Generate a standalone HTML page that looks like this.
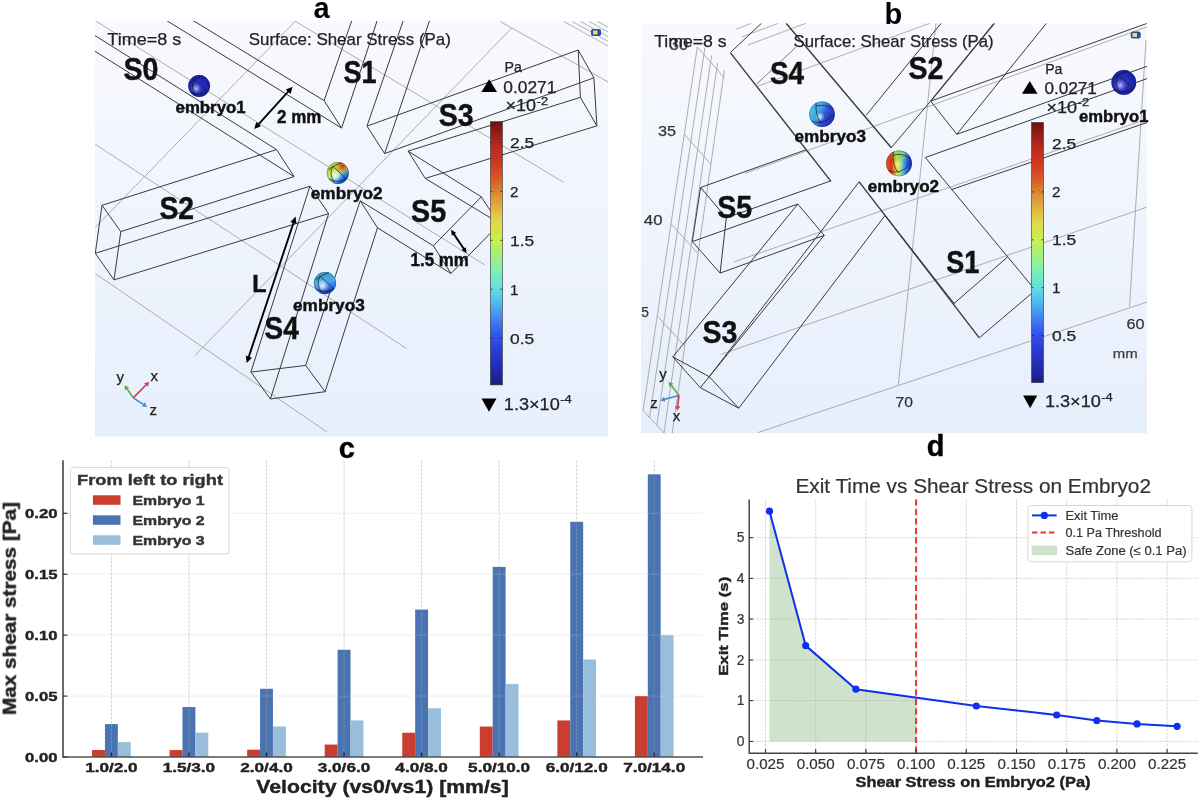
<!DOCTYPE html>
<html><head><meta charset="utf-8"><style>
html,body{margin:0;padding:0;background:#fff;width:1200px;height:799px;overflow:hidden}
body>svg{position:absolute;left:0;top:0;font-family:"Liberation Sans", sans-serif;will-change:transform}
</style></head><body>
<svg width="1200" height="799" viewBox="0 0 1200 799">
<defs>
<linearGradient id="bgA" x1="0" y1="0" x2="0" y2="1"><stop offset="0" stop-color="#f8f9fe"/><stop offset="1" stop-color="#e6effc"/></linearGradient>
<linearGradient id="cbar" x1="0" y1="1" x2="0" y2="0"><stop offset="0" stop-color="#1c1c80"/><stop offset="0.051" stop-color="#2028a8"/><stop offset="0.117" stop-color="#2838d0"/><stop offset="0.182" stop-color="#3050e8"/><stop offset="0.245" stop-color="#4080f0"/><stop offset="0.31" stop-color="#50b8f0"/><stop offset="0.365" stop-color="#60e0e0"/><stop offset="0.438" stop-color="#80f0b0"/><stop offset="0.511" stop-color="#b0f068"/><stop offset="0.547" stop-color="#c8f050"/><stop offset="0.62" stop-color="#e0d848"/><stop offset="0.675" stop-color="#e0b040"/><stop offset="0.73" stop-color="#d88830"/><stop offset="0.785" stop-color="#d85828"/><stop offset="0.84" stop-color="#d03820"/><stop offset="0.912" stop-color="#b82820"/><stop offset="1.0" stop-color="#701010"/></linearGradient>
</defs>
<rect x="95" y="21" width="513" height="415.5" fill="url(#bgA)"/><svg x="95" y="21" width="513" height="415.5" viewBox="95 21 513 415.5" overflow="hidden"><path d="M95.0,20.5 L485.1,265.1" fill="none" stroke="#a4a4a4" stroke-width="0.9" /><path d="M295.3,21.3 L95.0,227.6" fill="none" stroke="#a4a4a4" stroke-width="0.9" /><path d="M95.3,144.3 L406.3,348.4" fill="none" stroke="#a4a4a4" stroke-width="0.9" /><path d="M95.3,273.6 L327.0,432.0" fill="none" stroke="#a4a4a4" stroke-width="0.9" /><path d="M511.4,28.3 L195.2,355.3" fill="none" stroke="#a4a4a4" stroke-width="0.9" /><path d="M295.3,21.3 L563.6,182.3" fill="none" stroke="#a4a4a4" stroke-width="0.9" /><path d="M500.2,21.5 L608.0,81.9" fill="none" stroke="#a4a4a4" stroke-width="0.9" /><path d="M563.9,21.5 L608.9,46.5" fill="none" stroke="#aaaaaa" stroke-width="0.9" /><path d="M572.3,21.5 L617.3,46.5" fill="none" stroke="#aaaaaa" stroke-width="0.9" /><path d="M580.7,21.5 L625.7,46.5" fill="none" stroke="#aaaaaa" stroke-width="0.9" /><path d="M589.1,21.5 L634.1,46.5" fill="none" stroke="#aaaaaa" stroke-width="0.9" /><path d="M597.5,21.5 L642.5,46.5" fill="none" stroke="#aaaaaa" stroke-width="0.9" /><path d="M95.0,35.6 L276.6,149.6" fill="none" stroke="#3a3a3a" stroke-width="1.0" /><path d="M95.0,51.3 L294.1,176.6" fill="none" stroke="#3a3a3a" stroke-width="1.0" /><path d="M276.6,149.6 L294.1,176.6" fill="none" stroke="#3a3a3a" stroke-width="1.0" /><path d="M166.5,20.5 L341.6,128.1" fill="none" stroke="#3a3a3a" stroke-width="1.0" /><path d="M193.1,20.5 L324.1,100.6" fill="none" stroke="#3a3a3a" stroke-width="1.0" /><path d="M324.1,100.6 L341.6,128.1" fill="none" stroke="#3a3a3a" stroke-width="1.0" /><path d="M324.1,100.6 L351.8,20.5" fill="none" stroke="#3a3a3a" stroke-width="1.0" /><path d="M341.6,128.1 L377.2,20.5" fill="none" stroke="#3a3a3a" stroke-width="1.0" /><path d="M367.0,126.1 L403.3,20.5" fill="none" stroke="#3a3a3a" stroke-width="1.0" /><path d="M384.6,153.6 L429.6,20.5" fill="none" stroke="#3a3a3a" stroke-width="1.0" /><path d="M367.0,126.1 L384.6,153.6" fill="none" stroke="#3a3a3a" stroke-width="1.0" /><path d="M367.0,126.1 L578.2,50.0" fill="none" stroke="#3a3a3a" stroke-width="1.0" /><path d="M384.6,153.6 L593.9,77.8" fill="none" stroke="#3a3a3a" stroke-width="1.0" /><path d="M578.2,50.0 L593.9,77.8 L596.9,125.9 L580.4,97.4 L578.2,50.0" fill="none" stroke="#3a3a3a" stroke-width="1.0" /><path d="M408.1,151.1 L580.4,97.4" fill="none" stroke="#3a3a3a" stroke-width="1.0" /><path d="M425.2,178.4 L596.9,125.9" fill="none" stroke="#3a3a3a" stroke-width="1.0" /><path d="M408.1,151.1 L425.2,178.4" fill="none" stroke="#3a3a3a" stroke-width="1.0" /><path d="M408.1,151.1 L481.3,196.8" fill="none" stroke="#3a3a3a" stroke-width="1.0" /><path d="M425.2,178.4 L490.4,217.8" fill="none" stroke="#3a3a3a" stroke-width="1.0" /><path d="M481.3,196.8 L490.4,210.8" fill="none" stroke="#3a3a3a" stroke-width="1.0" /><path d="M481.3,196.8 L433.4,245.8" fill="none" stroke="#3a3a3a" stroke-width="1.0" /><path d="M433.4,245.8 L451.0,273.5" fill="none" stroke="#3a3a3a" stroke-width="1.0" /><path d="M451.0,273.5 L490.4,233.2" fill="none" stroke="#3a3a3a" stroke-width="1.0" /><path d="M360.2,200.8 L433.4,245.8" fill="none" stroke="#3a3a3a" stroke-width="1.0" /><path d="M377.5,227.8 L451.0,273.5" fill="none" stroke="#3a3a3a" stroke-width="1.0" /><path d="M360.2,200.8 L377.5,227.8" fill="none" stroke="#3a3a3a" stroke-width="1.0" /><path d="M250.9,372.1 L309.9,186.2" fill="none" stroke="#3a3a3a" stroke-width="1.0" /><path d="M270.4,399.0 L328.6,213.6" fill="none" stroke="#3a3a3a" stroke-width="1.0" /><path d="M305.7,365.4 L360.2,200.8" fill="none" stroke="#3a3a3a" stroke-width="1.0" /><path d="M325.1,391.7 L377.5,227.8" fill="none" stroke="#3a3a3a" stroke-width="1.0" /><path d="M250.9,372.1 L305.7,365.4 L325.1,391.7 L270.4,399.0 L250.9,372.1" fill="none" stroke="#3a3a3a" stroke-width="1.0" /><path d="M309.9,186.2 L328.6,213.6" fill="none" stroke="#3a3a3a" stroke-width="1.0" /><path d="M102.0,205.3 L276.6,149.6" fill="none" stroke="#3a3a3a" stroke-width="1.0" /><path d="M120.8,231.6 L294.1,176.6" fill="none" stroke="#3a3a3a" stroke-width="1.0" /><path d="M95.3,253.3 L309.9,186.2" fill="none" stroke="#3a3a3a" stroke-width="1.0" /><path d="M114.0,279.9 L328.6,213.6" fill="none" stroke="#3a3a3a" stroke-width="1.0" /><path d="M102.0,205.3 L120.8,231.6 L114.0,279.9 L95.3,253.3 L102.0,205.3" fill="none" stroke="#3a3a3a" stroke-width="1.0" /></svg><rect x="591" y="29" width="10" height="7" rx="2" fill="#2a4ab0"/><rect x="593" y="30.5" width="4.5" height="4" fill="#e8e050"/><text x="107.3" y="44.9" font-size="17" stroke="#222" stroke-width="0.25" fill="#222" text-anchor="start" textLength="74" lengthAdjust="spacingAndGlyphs" >Time=8 s</text><text x="248.7" y="44.7" font-size="17" stroke="#222" stroke-width="0.25" fill="#222" text-anchor="start" textLength="202.2" lengthAdjust="spacingAndGlyphs" >Surface: Shear Stress (Pa)</text><text x="123.5" y="80.0" font-size="31.2" font-weight="bold" stroke="#111" stroke-width="0.45" fill="#111" text-anchor="start" textLength="35.0" lengthAdjust="spacingAndGlyphs" >S0</text><text x="343.4" y="82.7" font-size="31.2" font-weight="bold" stroke="#111" stroke-width="0.45" fill="#111" text-anchor="start" textLength="33.0" lengthAdjust="spacingAndGlyphs" >S1</text><text x="159.4" y="219.1" font-size="31.2" font-weight="bold" stroke="#111" stroke-width="0.45" fill="#111" text-anchor="start" textLength="34.7" lengthAdjust="spacingAndGlyphs" >S2</text><text x="438.8" y="126.3" font-size="31.2" font-weight="bold" stroke="#111" stroke-width="0.45" fill="#111" text-anchor="start" textLength="34.9" lengthAdjust="spacingAndGlyphs" >S3</text><text x="264.6" y="339.3" font-size="31.2" font-weight="bold" stroke="#111" stroke-width="0.45" fill="#111" text-anchor="start" textLength="34.2" lengthAdjust="spacingAndGlyphs" >S4</text><text x="411.0" y="222.3" font-size="31.2" font-weight="bold" stroke="#111" stroke-width="0.45" fill="#111" text-anchor="start" textLength="35.1" lengthAdjust="spacingAndGlyphs" >S5</text><text x="252.3" y="291.9" font-size="24.8" font-weight="bold" stroke="#111" stroke-width="0.45" fill="#111" text-anchor="start" textLength="14.3" lengthAdjust="spacingAndGlyphs" >L</text><defs><radialGradient id="sph1199" cx="0.45" cy="0.5" r="0.6"><stop offset="0" stop-color="#3038c8"/><stop offset="0.75" stop-color="#1e22a8"/><stop offset="1" stop-color="#141880"/></radialGradient><radialGradient id="sph1199h" cx="0.36" cy="0.62" r="0.28"><stop offset="0" stop-color="#c8c8ff" stop-opacity="0.95"/><stop offset="1" stop-color="#6060f0" stop-opacity="0"/></radialGradient></defs><circle cx="199.1" cy="86.0" r="10.9" fill="url(#sph1199)"/><circle cx="199.1" cy="86.0" r="10.9" fill="url(#sph1199h)"/><path d="M194.2,79.5 Q200.7,84.9 206.9,91.5" fill="none" stroke="#101828" stroke-width="0.9" opacity="0.75"/><path d="M194.2,79.5 Q189.8,87.1 195.8,95.6" fill="none" stroke="#101828" stroke-width="0.9" opacity="0.75"/><path d="M189.8,82.7 Q194.2,78.9 202.9,75.6" fill="none" stroke="#101828" stroke-width="0.9" opacity="0.75"/><path d="M190.4,92.0 Q200.2,96.7 206.9,91.5" fill="none" stroke="#101828" stroke-width="0.9" opacity="0.75"/><circle cx="199.1" cy="86.0" r="10.6" fill="none" stroke="#102040" stroke-width="0.6" opacity="0.5"/><defs><linearGradient id="sph2337" x1="0.1" y1="0.1" x2="0.9" y2="0.9"><stop offset="0" stop-color="#a8d040"/><stop offset="0.35" stop-color="#c8e048"/><stop offset="0.55" stop-color="#80e0b0"/><stop offset="0.72" stop-color="#3090e8"/><stop offset="1" stop-color="#1020a0"/></linearGradient><radialGradient id="sph2337r" cx="0.72" cy="0.18" r="0.42"><stop offset="0" stop-color="#c83010" stop-opacity="1"/><stop offset="0.6" stop-color="#e09020" stop-opacity="0.6"/><stop offset="1" stop-color="#e0c030" stop-opacity="0"/></radialGradient><radialGradient id="sph2337h" cx="0.38" cy="0.62" r="0.3"><stop offset="0" stop-color="#ffffff" stop-opacity="0.9"/><stop offset="1" stop-color="#ffffff" stop-opacity="0"/></radialGradient></defs><circle cx="337.8" cy="173.0" r="11.0" fill="url(#sph2337)"/><circle cx="337.8" cy="173.0" r="11.0" fill="url(#sph2337r)"/><circle cx="337.8" cy="173.0" r="11.0" fill="url(#sph2337h)"/><path d="M332.9,166.4 Q339.4,171.9 345.7,178.5" fill="none" stroke="#101828" stroke-width="0.9" opacity="0.75"/><path d="M332.9,166.4 Q328.4,174.1 334.5,182.7" fill="none" stroke="#101828" stroke-width="0.9" opacity="0.75"/><path d="M328.4,169.7 Q332.9,165.8 341.7,162.6" fill="none" stroke="#101828" stroke-width="0.9" opacity="0.75"/><path d="M329.0,179.1 Q338.9,183.8 345.7,178.5" fill="none" stroke="#101828" stroke-width="0.9" opacity="0.75"/><circle cx="337.8" cy="173.0" r="10.7" fill="none" stroke="#102040" stroke-width="0.6" opacity="0.5"/><defs><linearGradient id="sph3325" x1="0.3" y1="0" x2="0.5" y2="1"><stop offset="0" stop-color="#3aa0b8"/><stop offset="0.45" stop-color="#4aa8ee"/><stop offset="0.75" stop-color="#3070e0"/><stop offset="1" stop-color="#1828b0"/></linearGradient><radialGradient id="sph3325h" cx="0.38" cy="0.62" r="0.3"><stop offset="0" stop-color="#ffffff" stop-opacity="0.9"/><stop offset="1" stop-color="#ffffff" stop-opacity="0"/></radialGradient></defs><circle cx="325.0" cy="283.0" r="11.1" fill="url(#sph3325)"/><circle cx="325.0" cy="283.0" r="11.1" fill="url(#sph3325h)"/><path d="M320.0,276.3 Q326.7,281.9 333.0,288.6" fill="none" stroke="#101828" stroke-width="0.9" opacity="0.75"/><path d="M320.0,276.3 Q315.6,284.1 321.7,292.8" fill="none" stroke="#101828" stroke-width="0.9" opacity="0.75"/><path d="M315.6,279.7 Q320.0,275.8 328.9,272.5" fill="none" stroke="#101828" stroke-width="0.9" opacity="0.75"/><path d="M316.1,289.1 Q326.1,293.9 333.0,288.6" fill="none" stroke="#101828" stroke-width="0.9" opacity="0.75"/><circle cx="325.0" cy="283.0" r="10.8" fill="none" stroke="#102040" stroke-width="0.6" opacity="0.5"/><text x="175.6" y="112.7" font-size="17.3" font-weight="bold" stroke="#111" stroke-width="0.45" fill="#111" text-anchor="start" textLength="70.0" lengthAdjust="spacingAndGlyphs" >embryo1</text><text x="310.8" y="199.3" font-size="17.3" font-weight="bold" stroke="#111" stroke-width="0.45" fill="#111" text-anchor="start" textLength="71.8" lengthAdjust="spacingAndGlyphs" >embryo2</text><text x="293.0" y="310.7" font-size="17.3" font-weight="bold" stroke="#111" stroke-width="0.45" fill="#111" text-anchor="start" textLength="71.8" lengthAdjust="spacingAndGlyphs" >embryo3</text><line x1="257.8" y1="125.1" x2="289.0" y2="90.7" stroke="#000" stroke-width="1.9"/><polygon points="254.1,129.1 261.0,126.2 256.3,121.9" fill="#000"/><polygon points="292.7,86.7 290.5,93.9 285.8,89.6" fill="#000"/><line x1="248.4" y1="357.9" x2="293.9" y2="221.8" stroke="#000" stroke-width="1.9"/><polygon points="246.7,363.1 251.9,357.7 245.8,355.6" fill="#000"/><polygon points="295.6,216.6 296.5,224.1 290.4,222.0" fill="#000"/><line x1="453.4" y1="233.4" x2="464.3" y2="249.5" stroke="#000" stroke-width="1.9"/><polygon points="451.0,229.7 451.9,235.7 456.2,232.8" fill="#000"/><polygon points="466.7,253.2 461.5,250.1 465.8,247.2" fill="#000"/><text x="277.0" y="123.1" font-size="17.8" font-weight="bold" stroke="#111" stroke-width="0.45" fill="#111" text-anchor="start" textLength="44.3" lengthAdjust="spacingAndGlyphs" >2 mm</text><text x="410.6" y="265.7" font-size="17.8" font-weight="bold" stroke="#111" stroke-width="0.45" fill="#111" text-anchor="start" textLength="58.0" lengthAdjust="spacingAndGlyphs" >1.5 mm</text><text x="504.5" y="71.8" font-size="15.3" stroke="#222" stroke-width="0.25" fill="#222" text-anchor="start" textLength="17.3" lengthAdjust="spacingAndGlyphs" >Pa</text><polygon points="489.2,79.3 497,92.1 481.4,92.1" fill="#000"/><text x="503.3" y="92.9" font-size="16" stroke="#222" stroke-width="0.25" fill="#222" text-anchor="start" textLength="53.1" lengthAdjust="spacingAndGlyphs" >0.0271</text><text x="505.6" y="110.9" font-size="16" stroke="#222" stroke-width="0.25" fill="#222" text-anchor="start" textLength="30.5" lengthAdjust="spacingAndGlyphs" >×10</text><text x="536.6" y="104.5" font-size="11" stroke="#222" stroke-width="0.25" fill="#222" text-anchor="start" textLength="11.5" lengthAdjust="spacingAndGlyphs" >-2</text><rect x="490.4" y="121.7" width="12" height="263.2" fill="url(#cbar)" stroke="#333" stroke-width="0.6"/><line x1="490.4" y1="338.1" x2="492.4" y2="338.1" stroke="#222" stroke-width="0.8"/><line x1="500.4" y1="338.1" x2="502.4" y2="338.1" stroke="#222" stroke-width="0.8"/><line x1="490.4" y1="289.2" x2="492.4" y2="289.2" stroke="#222" stroke-width="0.8"/><line x1="500.4" y1="289.2" x2="502.4" y2="289.2" stroke="#222" stroke-width="0.8"/><line x1="490.4" y1="240.3" x2="492.4" y2="240.3" stroke="#222" stroke-width="0.8"/><line x1="500.4" y1="240.3" x2="502.4" y2="240.3" stroke="#222" stroke-width="0.8"/><line x1="490.4" y1="191.4" x2="492.4" y2="191.4" stroke="#222" stroke-width="0.8"/><line x1="500.4" y1="191.4" x2="502.4" y2="191.4" stroke="#222" stroke-width="0.8"/><line x1="490.4" y1="142.5" x2="492.4" y2="142.5" stroke="#222" stroke-width="0.8"/><line x1="500.4" y1="142.5" x2="502.4" y2="142.5" stroke="#222" stroke-width="0.8"/><text x="510" y="343.5" font-size="15.2" stroke="#222" stroke-width="0.25" fill="#222" text-anchor="start" textLength="24.2" lengthAdjust="spacingAndGlyphs" >0.5</text><text x="510" y="294.6" font-size="15.2" stroke="#222" stroke-width="0.25" fill="#222" text-anchor="start" >1</text><text x="510" y="245.7" font-size="15.2" stroke="#222" stroke-width="0.25" fill="#222" text-anchor="start" textLength="24.2" lengthAdjust="spacingAndGlyphs" >1.5</text><text x="510" y="196.8" font-size="15.2" stroke="#222" stroke-width="0.25" fill="#222" text-anchor="start" >2</text><text x="510" y="147.9" font-size="15.2" stroke="#222" stroke-width="0.25" fill="#222" text-anchor="start" textLength="24.2" lengthAdjust="spacingAndGlyphs" >2.5</text><polygon points="481.5,398.5 496.5,398.5 489,411.7" fill="#000"/><text x="503.8" y="410" font-size="16" stroke="#222" stroke-width="0.25" fill="#222" text-anchor="start" textLength="56" lengthAdjust="spacingAndGlyphs" >1.3×10</text><text x="560.2" y="403.4" font-size="11" stroke="#222" stroke-width="0.25" fill="#222" text-anchor="start" textLength="11.5" lengthAdjust="spacingAndGlyphs" >-4</text><line x1="133.3" y1="397.9" x2="127.1" y2="388.9" stroke="#5aaa46" stroke-width="1.6"/><polygon points="124.5,385.2 129.2,387.4 124.9,390.4" fill="#5aaa46"/><line x1="133.3" y1="397.9" x2="145.9" y2="385.0" stroke="#d8365a" stroke-width="1.6"/><polygon points="149.1,381.8 147.8,386.8 144.1,383.2" fill="#d8365a"/><line x1="133.3" y1="397.9" x2="143.3" y2="404.4" stroke="#4a88c8" stroke-width="1.6"/><polygon points="147.1,406.8 141.9,406.5 144.7,402.2" fill="#4a88c8"/><text x="116.6" y="381.5" font-size="15" stroke="#222" stroke-width="0.25" fill="#222" text-anchor="start" >y</text><text x="150.6" y="380.6" font-size="15" stroke="#222" stroke-width="0.25" fill="#222" text-anchor="start" >x</text><text x="149.6" y="414.6" font-size="15" stroke="#222" stroke-width="0.25" fill="#222" text-anchor="start" >z</text><text x="321.5" y="18" font-size="29" font-weight="bold" text-anchor="middle">a</text>
<rect x="641" y="23.2" width="506" height="410" fill="url(#bgA)"/><svg x="641" y="23.2" width="506" height="410" viewBox="641 23.2 506 410" overflow="hidden"><path d="M697.3,47.0 L643.1,410.7" fill="none" stroke="#a4a4a4" stroke-width="0.9" /><path d="M704.9,47.8 L649.5,417.4" fill="none" stroke="#a4a4a4" stroke-width="0.9" /><path d="M711.6,55.3 L656.8,425.2" fill="none" stroke="#a4a4a4" stroke-width="0.9" /><path d="M717.6,62.8 L664.0,432.8" fill="none" stroke="#a4a4a4" stroke-width="0.9" /><path d="M724.4,70.3 L672.2,433.5" fill="none" stroke="#a4a4a4" stroke-width="0.9" /><path d="M697.3,47.0 L724.4,77.8" fill="none" stroke="#a4a4a4" stroke-width="0.9" /><path d="M684.3,134.3 L710.9,164.3" fill="none" stroke="#a4a4a4" stroke-width="0.9" /><path d="M670.8,223.7 L698.2,253.7" fill="none" stroke="#a4a4a4" stroke-width="0.9" /><path d="M657.2,315.9 L684.7,345.9" fill="none" stroke="#a4a4a4" stroke-width="0.9" /><path d="M643.1,410.7 L666.0,435.0" fill="none" stroke="#a4a4a4" stroke-width="0.9" /><path d="M720.8,354.4 L1146.4,207.3" fill="none" stroke="#a4a4a4" stroke-width="0.9" /><path d="M757.9,432.6 L1147.0,302.0" fill="none" stroke="#a4a4a4" stroke-width="0.9" /><path d="M733.6,262.0 L1147.0,119.0" fill="none" stroke="#a4a4a4" stroke-width="0.9" /><path d="M745.2,173.3 L1146.9,26.9" fill="none" stroke="#a4a4a4" stroke-width="0.9" /><path d="M758.0,86.1 L930.0,23.2" fill="none" stroke="#a4a4a4" stroke-width="0.9" /><path d="M735.5,29.5 L751.5,23.2" fill="none" stroke="#a4a4a4" stroke-width="0.9" /><path d="M741.5,37.0 L778.6,23.2" fill="none" stroke="#a4a4a4" stroke-width="0.9" /><path d="M748.0,45.0 L806.1,23.2" fill="none" stroke="#a4a4a4" stroke-width="0.9" /><path d="M936.0,23.2 L898.3,385.5" fill="none" stroke="#a4a4a4" stroke-width="0.9" /><path d="M1146.0,40.0 L1129.5,306.9" fill="none" stroke="#a4a4a4" stroke-width="0.9" /><path d="M730.5,52.4 L761.5,23.2" fill="none" stroke="#3a3a3a" stroke-width="1.0" /><path d="M866.1,115.4 L941.2,23.2" fill="none" stroke="#3a3a3a" stroke-width="1.0" /><path d="M930.7,101.1 L1147.0,23.4" fill="none" stroke="#3a3a3a" stroke-width="1.0" /><path d="M930.7,101.1 L956.8,134.3" fill="none" stroke="#3a3a3a" stroke-width="1.0" /><path d="M956.8,134.3 L1046.5,23.2" fill="none" stroke="#3a3a3a" stroke-width="1.0" /><path d="M956.8,134.3 L1147.0,66.3" fill="none" stroke="#3a3a3a" stroke-width="1.0" /><path d="M925.3,157.5 L1147.0,78.6" fill="none" stroke="#3a3a3a" stroke-width="1.0" /><path d="M951.4,189.6 L1147.0,122.5" fill="none" stroke="#3a3a3a" stroke-width="1.0" /><path d="M925.3,157.5 L1007.7,256.9 L1031.5,285.5" fill="none" stroke="#3a3a3a" stroke-width="1.0" /><path d="M885.4,215.8 L954.3,303.6" fill="none" stroke="#3a3a3a" stroke-width="1.0" /><path d="M953.4,304.0 L1007.7,256.9" fill="none" stroke="#3a3a3a" stroke-width="1.0" /><path d="M979.3,337.8 L1031.5,293.5" fill="none" stroke="#3a3a3a" stroke-width="1.0" /><path d="M859.2,181.8 L709.2,376.7" fill="none" stroke="#3a3a3a" stroke-width="1.0" /><path d="M824.2,235.4 L700.3,387.7" fill="none" stroke="#3a3a3a" stroke-width="1.0" /><path d="M884.5,216.2 L738.7,408.2" fill="none" stroke="#3a3a3a" stroke-width="1.0" /><path d="M797.8,204.1 L672.8,356.9" fill="none" stroke="#3a3a3a" stroke-width="1.0" /><path d="M672.8,356.9 L709.2,376.7 L738.7,408.2 L700.3,387.7 L672.8,356.9" fill="none" stroke="#3a3a3a" stroke-width="1.0" /><path d="M797.8,204.1 L824.2,235.4" fill="none" stroke="#3a3a3a" stroke-width="1.0" /><path d="M700.6,187.5 L805.9,149.8" fill="none" stroke="#3a3a3a" stroke-width="1.0" /><path d="M726.3,217.8 L831.0,180.8" fill="none" stroke="#3a3a3a" stroke-width="1.0" /><path d="M692.3,241.6 L797.8,204.1" fill="none" stroke="#3a3a3a" stroke-width="1.0" /><path d="M720.1,273.1 L824.2,235.4" fill="none" stroke="#3a3a3a" stroke-width="1.0" /><path d="M700.6,187.5 L726.3,217.8 L720.1,273.1 L692.3,241.6 L700.6,187.5" fill="none" stroke="#3a3a3a" stroke-width="1.0" /><path d="M730.5,52.9 L831.0,181.3" fill="none" stroke="#383838" stroke-width="1.35" /><path d="M786.1,23.2 L891.3,147.7" fill="none" stroke="#383838" stroke-width="1.35" /><path d="M930.7,101.1 L994.3,23.2" fill="none" stroke="#383838" stroke-width="1.35" /><path d="M859.2,181.8 L979.3,337.8" fill="none" stroke="#383838" stroke-width="1.35" /><path d="M891.3,147.7 L930.7,101.1" fill="none" stroke="#3a3a3a" stroke-width="1.0" /><path d="M756.6,84.1 L796.1,47.0" fill="none" stroke="#707070" stroke-width="0.9" /></svg><rect x="1130.7" y="31.6" width="10" height="7" rx="2" fill="#2a4ab0"/><rect x="1132.5" y="33" width="4.5" height="4" fill="#e8e050"/><text x="669.4" y="50.0" font-size="16" stroke="#444" stroke-width="0.25" fill="#444" text-anchor="start" textLength="18.8" lengthAdjust="spacingAndGlyphs" >30</text><text x="658" y="135.8" font-size="15" stroke="#333" stroke-width="0.25" fill="#333" text-anchor="start" textLength="18" lengthAdjust="spacingAndGlyphs" >35</text><text x="643.8" y="225.2" font-size="15" stroke="#333" stroke-width="0.25" fill="#333" text-anchor="start" textLength="18.7" lengthAdjust="spacingAndGlyphs" >40</text><text x="641.3" y="317" font-size="15" stroke="#333" stroke-width="0.25" fill="#333" text-anchor="start" textLength="7.7" lengthAdjust="spacingAndGlyphs" >5</text><text x="895.6" y="407.1" font-size="15" stroke="#333" stroke-width="0.25" fill="#333" text-anchor="start" textLength="17.4" lengthAdjust="spacingAndGlyphs" >70</text><text x="1126.4" y="328.7" font-size="15" stroke="#333" stroke-width="0.25" fill="#333" text-anchor="start" textLength="18" lengthAdjust="spacingAndGlyphs" >60</text><text x="1112.8" y="358.2" font-size="12.5" stroke="#444" stroke-width="0.25" fill="#444" text-anchor="start" textLength="24.9" lengthAdjust="spacingAndGlyphs" >mm</text><text x="654.2" y="47" font-size="17" stroke="#222" stroke-width="0.25" fill="#222" text-anchor="start" textLength="72.4" lengthAdjust="spacingAndGlyphs" >Time=8 s</text><text x="793.6" y="47" font-size="17" stroke="#222" stroke-width="0.25" fill="#222" text-anchor="start" textLength="200" lengthAdjust="spacingAndGlyphs" >Surface: Shear Stress (Pa)</text><text x="770.0" y="84.0" font-size="31.2" font-weight="bold" stroke="#111" stroke-width="0.45" fill="#111" text-anchor="start" textLength="34.1" lengthAdjust="spacingAndGlyphs" >S4</text><text x="908.4" y="79.3" font-size="31.2" font-weight="bold" stroke="#111" stroke-width="0.45" fill="#111" text-anchor="start" textLength="34.9" lengthAdjust="spacingAndGlyphs" >S2</text><text x="717.2" y="218.3" font-size="31.2" font-weight="bold" stroke="#111" stroke-width="0.45" fill="#111" text-anchor="start" textLength="34.9" lengthAdjust="spacingAndGlyphs" >S5</text><text x="702.4" y="342.7" font-size="31.2" font-weight="bold" stroke="#111" stroke-width="0.45" fill="#111" text-anchor="start" textLength="34.9" lengthAdjust="spacingAndGlyphs" >S3</text><text x="946.2" y="273.4" font-size="31.2" font-weight="bold" stroke="#111" stroke-width="0.45" fill="#111" text-anchor="start" textLength="33.0" lengthAdjust="spacingAndGlyphs" >S1</text><defs><linearGradient id="sph5822" x1="0" y1="0.3" x2="1" y2="0.8"><stop offset="0" stop-color="#50c8e0"/><stop offset="0.35" stop-color="#40a0e0"/><stop offset="0.6" stop-color="#3050d8"/><stop offset="1" stop-color="#1820a0"/></linearGradient><radialGradient id="sph5822h" cx="0.42" cy="0.6" r="0.18"><stop offset="0" stop-color="#e0ffff" stop-opacity="0.9"/><stop offset="1" stop-color="#e0ffff" stop-opacity="0"/></radialGradient></defs><circle cx="822.0" cy="114.2" r="12.8" fill="url(#sph5822)"/><circle cx="822.0" cy="114.2" r="12.8" fill="url(#sph5822h)"/><path d="M816.1,102.7 Q815.0,115.5 821.2,123.4" fill="none" stroke="#101828" stroke-width="0.9" opacity="0.75"/><path d="M815.6,106.3 Q823.9,103.3 832.5,108.8" fill="none" stroke="#101828" stroke-width="0.9" opacity="0.75"/><path d="M812.0,121.2 Q823.3,126.4 832.5,114.8" fill="none" stroke="#101828" stroke-width="0.9" opacity="0.75"/><circle cx="822.0" cy="114.2" r="12.5" fill="none" stroke="#102040" stroke-width="0.6" opacity="0.5"/><defs><linearGradient id="sph4899" x1="0" y1="0.5" x2="1" y2="0.5"><stop offset="0" stop-color="#e06020"/><stop offset="0.2" stop-color="#d83018"/><stop offset="0.42" stop-color="#e8e040"/><stop offset="0.6" stop-color="#70d8b0"/><stop offset="0.78" stop-color="#3070e0"/><stop offset="1" stop-color="#1020a0"/></linearGradient><radialGradient id="sph4899r" cx="0.5" cy="0.1" r="0.4"><stop offset="0" stop-color="#80d860" stop-opacity="1"/><stop offset="1" stop-color="#80d860" stop-opacity="0"/></radialGradient><radialGradient id="sph4899h" cx="0.45" cy="0.55" r="0.2"><stop offset="0" stop-color="#ffffa0" stop-opacity="0.6"/><stop offset="1" stop-color="#ffffa0" stop-opacity="0"/></radialGradient></defs><circle cx="899.0" cy="163.4" r="12.9" fill="url(#sph4899)"/><circle cx="899.0" cy="163.4" r="12.9" fill="url(#sph4899r)"/><circle cx="899.0" cy="163.4" r="12.9" fill="url(#sph4899h)"/><path d="M893.1,151.8 Q891.9,164.7 898.2,172.7" fill="none" stroke="#101828" stroke-width="0.9" opacity="0.75"/><path d="M892.5,155.4 Q900.9,152.4 909.6,158.0" fill="none" stroke="#101828" stroke-width="0.9" opacity="0.75"/><path d="M888.9,170.5 Q900.3,175.7 909.6,164.0" fill="none" stroke="#101828" stroke-width="0.9" opacity="0.75"/><circle cx="899.0" cy="163.4" r="12.6" fill="none" stroke="#102040" stroke-width="0.6" opacity="0.5"/><defs><radialGradient id="sph11123" cx="0.45" cy="0.5" r="0.6"><stop offset="0" stop-color="#3038c8"/><stop offset="0.75" stop-color="#1e22a8"/><stop offset="1" stop-color="#141880"/></radialGradient><radialGradient id="sph11123h" cx="0.36" cy="0.62" r="0.28"><stop offset="0" stop-color="#c8c8ff" stop-opacity="0.95"/><stop offset="1" stop-color="#6060f0" stop-opacity="0"/></radialGradient></defs><circle cx="1123.8" cy="82.4" r="12.4" fill="url(#sph11123)"/><circle cx="1123.8" cy="82.4" r="12.4" fill="url(#sph11123h)"/><path d="M1118.2,75.0 Q1125.7,81.2 1132.7,88.6" fill="none" stroke="#101828" stroke-width="0.9" opacity="0.75"/><path d="M1118.2,75.0 Q1113.3,83.6 1120.1,93.3" fill="none" stroke="#101828" stroke-width="0.9" opacity="0.75"/><path d="M1113.3,78.7 Q1118.2,74.3 1128.1,70.6" fill="none" stroke="#101828" stroke-width="0.9" opacity="0.75"/><path d="M1113.9,89.2 Q1125.0,94.6 1132.7,88.6" fill="none" stroke="#101828" stroke-width="0.9" opacity="0.75"/><circle cx="1123.8" cy="82.4" r="12.1" fill="none" stroke="#102040" stroke-width="0.6" opacity="0.5"/><text x="794.5" y="141.7" font-size="17.3" font-weight="bold" stroke="#111" stroke-width="0.45" fill="#111" text-anchor="start" textLength="71.5" lengthAdjust="spacingAndGlyphs" >embryo3</text><text x="867.8" y="192.0" font-size="17.3" font-weight="bold" stroke="#111" stroke-width="0.45" fill="#111" text-anchor="start" textLength="71.3" lengthAdjust="spacingAndGlyphs" >embryo2</text><text x="1079.0" y="121.7" font-size="17.3" font-weight="bold" stroke="#111" stroke-width="0.45" fill="#111" text-anchor="start" textLength="69.4" lengthAdjust="spacingAndGlyphs" >embryo1</text><text x="1045.2" y="73.7" font-size="15.3" stroke="#222" stroke-width="0.25" fill="#222" text-anchor="start" textLength="17.3" lengthAdjust="spacingAndGlyphs" >Pa</text><polygon points="1029.75,80.9 1037.5,93.7 1022,93.7" fill="#000"/><text x="1044.4" y="93.7" font-size="16" stroke="#222" stroke-width="0.25" fill="#222" text-anchor="start" textLength="52.4" lengthAdjust="spacingAndGlyphs" >0.0271</text><text x="1046.6" y="112.5" font-size="16" stroke="#222" stroke-width="0.25" fill="#222" text-anchor="start" textLength="30.5" lengthAdjust="spacingAndGlyphs" >×10</text><text x="1077.6" y="106.1" font-size="11" stroke="#222" stroke-width="0.25" fill="#222" text-anchor="start" textLength="11.5" lengthAdjust="spacingAndGlyphs" >-2</text><rect x="1031.6" y="122.5" width="11.9" height="260.1" fill="url(#cbar)" stroke="#333" stroke-width="0.6"/><line x1="1031.6" y1="335.6" x2="1033.6" y2="335.6" stroke="#222" stroke-width="0.8"/><line x1="1041.5" y1="335.6" x2="1043.5" y2="335.6" stroke="#222" stroke-width="0.8"/><line x1="1031.6" y1="287.7" x2="1033.6" y2="287.7" stroke="#222" stroke-width="0.8"/><line x1="1041.5" y1="287.7" x2="1043.5" y2="287.7" stroke="#222" stroke-width="0.8"/><line x1="1031.6" y1="239.8" x2="1033.6" y2="239.8" stroke="#222" stroke-width="0.8"/><line x1="1041.5" y1="239.8" x2="1043.5" y2="239.8" stroke="#222" stroke-width="0.8"/><line x1="1031.6" y1="191.9" x2="1033.6" y2="191.9" stroke="#222" stroke-width="0.8"/><line x1="1041.5" y1="191.9" x2="1043.5" y2="191.9" stroke="#222" stroke-width="0.8"/><line x1="1031.6" y1="144.0" x2="1033.6" y2="144.0" stroke="#222" stroke-width="0.8"/><line x1="1041.5" y1="144.0" x2="1043.5" y2="144.0" stroke="#222" stroke-width="0.8"/><text x="1052" y="341.0" font-size="15.2" stroke="#222" stroke-width="0.25" fill="#222" text-anchor="start" textLength="24.2" lengthAdjust="spacingAndGlyphs" >0.5</text><text x="1052" y="293.1" font-size="15.2" stroke="#222" stroke-width="0.25" fill="#222" text-anchor="start" >1</text><text x="1052" y="245.2" font-size="15.2" stroke="#222" stroke-width="0.25" fill="#222" text-anchor="start" textLength="24.2" lengthAdjust="spacingAndGlyphs" >1.5</text><text x="1052" y="197.3" font-size="15.2" stroke="#222" stroke-width="0.25" fill="#222" text-anchor="start" >2</text><text x="1052" y="149.4" font-size="15.2" stroke="#222" stroke-width="0.25" fill="#222" text-anchor="start" textLength="24.2" lengthAdjust="spacingAndGlyphs" >2.5</text><polygon points="1023.1,395.4 1037.2,395.4 1030.15,408.2" fill="#000"/><text x="1044.9" y="407.4" font-size="16" stroke="#222" stroke-width="0.25" fill="#222" text-anchor="start" textLength="56" lengthAdjust="spacingAndGlyphs" >1.3×10</text><text x="1101.3" y="400.8" font-size="11" stroke="#222" stroke-width="0.25" fill="#222" text-anchor="start" textLength="11.5" lengthAdjust="spacingAndGlyphs" >-4</text><line x1="679" y1="395.4" x2="671.4" y2="385.4" stroke="#5aaa46" stroke-width="1.6"/><polygon points="668.7,381.8 673.5,383.8 669.3,387.0" fill="#5aaa46"/><line x1="679" y1="395.4" x2="664.8" y2="399.3" stroke="#4a88c8" stroke-width="1.6"/><polygon points="660.5,400.5 664.1,396.8 665.5,401.8" fill="#4a88c8"/><line x1="679" y1="395.4" x2="677.7" y2="406.3" stroke="#d8365a" stroke-width="1.6"/><polygon points="677.2,410.8 675.1,406.0 680.3,406.6" fill="#d8365a"/><text x="659.2" y="379" font-size="15" stroke="#222" stroke-width="0.25" fill="#222" text-anchor="start" >y</text><text x="650.3" y="408.2" font-size="15" stroke="#222" stroke-width="0.25" fill="#222" text-anchor="start" >z</text><text x="672.8" y="421" font-size="15" stroke="#222" stroke-width="0.25" fill="#222" text-anchor="start" >x</text><text x="893.3" y="23.7" font-size="29" font-weight="bold" text-anchor="middle">b</text>
<rect x="92.05" y="750.05" width="12.9" height="6.95" fill="#cb3d2f"/><rect x="104.95" y="724.10" width="12.9" height="32.90" fill="#4a73b1"/><rect x="117.85" y="742.13" width="12.9" height="14.87" fill="#98bedb"/><rect x="169.60" y="750.05" width="12.9" height="6.95" fill="#cb3d2f"/><rect x="182.50" y="707.04" width="12.9" height="49.96" fill="#4a73b1"/><rect x="195.40" y="732.63" width="12.9" height="24.37" fill="#98bedb"/><rect x="247.15" y="749.69" width="12.9" height="7.31" fill="#cb3d2f"/><rect x="260.05" y="688.76" width="12.9" height="68.24" fill="#4a73b1"/><rect x="272.95" y="726.54" width="12.9" height="30.46" fill="#98bedb"/><rect x="324.70" y="744.57" width="12.9" height="12.43" fill="#cb3d2f"/><rect x="337.60" y="649.77" width="12.9" height="107.23" fill="#4a73b1"/><rect x="350.50" y="720.45" width="12.9" height="36.55" fill="#98bedb"/><rect x="402.25" y="732.75" width="12.9" height="24.25" fill="#cb3d2f"/><rect x="415.15" y="609.56" width="12.9" height="147.44" fill="#4a73b1"/><rect x="428.05" y="708.26" width="12.9" height="48.74" fill="#98bedb"/><rect x="479.80" y="726.54" width="12.9" height="30.46" fill="#cb3d2f"/><rect x="492.70" y="566.91" width="12.9" height="190.09" fill="#4a73b1"/><rect x="505.60" y="683.89" width="12.9" height="73.11" fill="#98bedb"/><rect x="557.35" y="720.45" width="12.9" height="36.55" fill="#cb3d2f"/><rect x="570.25" y="521.83" width="12.9" height="235.17" fill="#4a73b1"/><rect x="583.15" y="659.52" width="12.9" height="97.48" fill="#98bedb"/><rect x="634.90" y="696.08" width="12.9" height="60.92" fill="#cb3d2f"/><rect x="647.80" y="474.31" width="12.9" height="282.69" fill="#4a73b1"/><rect x="660.70" y="635.15" width="12.9" height="121.85" fill="#98bedb"/><line x1="111.4" y1="460.7" x2="111.4" y2="757.0" stroke="#a8a8a8" stroke-opacity="0.6" stroke-width="0.9" stroke-dasharray="2.6,1.4"/><line x1="188.95" y1="460.7" x2="188.95" y2="757.0" stroke="#a8a8a8" stroke-opacity="0.6" stroke-width="0.9" stroke-dasharray="2.6,1.4"/><line x1="266.5" y1="460.7" x2="266.5" y2="757.0" stroke="#a8a8a8" stroke-opacity="0.6" stroke-width="0.9" stroke-dasharray="2.6,1.4"/><line x1="344.04999999999995" y1="460.7" x2="344.04999999999995" y2="757.0" stroke="#a8a8a8" stroke-opacity="0.6" stroke-width="0.9" stroke-dasharray="2.6,1.4"/><line x1="421.6" y1="460.7" x2="421.6" y2="757.0" stroke="#a8a8a8" stroke-opacity="0.6" stroke-width="0.9" stroke-dasharray="2.6,1.4"/><line x1="499.15" y1="460.7" x2="499.15" y2="757.0" stroke="#a8a8a8" stroke-opacity="0.6" stroke-width="0.9" stroke-dasharray="2.6,1.4"/><line x1="576.6999999999999" y1="460.7" x2="576.6999999999999" y2="757.0" stroke="#a8a8a8" stroke-opacity="0.6" stroke-width="0.9" stroke-dasharray="2.6,1.4"/><line x1="654.25" y1="460.7" x2="654.25" y2="757.0" stroke="#a8a8a8" stroke-opacity="0.6" stroke-width="0.9" stroke-dasharray="2.6,1.4"/><line x1="63.0" y1="696.1" x2="703.0" y2="696.1" stroke="#c4c4c4" stroke-opacity="0.55" stroke-width="0.8" stroke-dasharray="2.6,1.4"/><line x1="63.0" y1="635.1" x2="703.0" y2="635.1" stroke="#c4c4c4" stroke-opacity="0.55" stroke-width="0.8" stroke-dasharray="2.6,1.4"/><line x1="63.0" y1="574.2" x2="703.0" y2="574.2" stroke="#c4c4c4" stroke-opacity="0.55" stroke-width="0.8" stroke-dasharray="2.6,1.4"/><line x1="63.0" y1="513.3" x2="703.0" y2="513.3" stroke="#c4c4c4" stroke-opacity="0.55" stroke-width="0.8" stroke-dasharray="2.6,1.4"/><line x1="111.4" y1="752.5" x2="111.4" y2="757.0" stroke="#222" stroke-width="1.3"/><line x1="188.95" y1="752.5" x2="188.95" y2="757.0" stroke="#222" stroke-width="1.3"/><line x1="266.5" y1="752.5" x2="266.5" y2="757.0" stroke="#222" stroke-width="1.3"/><line x1="344.04999999999995" y1="752.5" x2="344.04999999999995" y2="757.0" stroke="#222" stroke-width="1.3"/><line x1="421.6" y1="752.5" x2="421.6" y2="757.0" stroke="#222" stroke-width="1.3"/><line x1="499.15" y1="752.5" x2="499.15" y2="757.0" stroke="#222" stroke-width="1.3"/><line x1="576.6999999999999" y1="752.5" x2="576.6999999999999" y2="757.0" stroke="#222" stroke-width="1.3"/><line x1="654.25" y1="752.5" x2="654.25" y2="757.0" stroke="#222" stroke-width="1.3"/><line x1="63.0" y1="460.2" x2="63.0" y2="757.8" stroke="#5a5a5a" stroke-width="1.8"/><line x1="63.0" y1="757.0" x2="703.0" y2="757.0" stroke="#505050" stroke-width="1.6"/><line x1="63.0" y1="757.0" x2="67.3" y2="757.0" stroke="#333" stroke-width="1.2"/><text x="57.5" y="761.9" font-size="13.6" font-weight="bold" stroke="#222" stroke-width="0.4" fill="#222" text-anchor="end" textLength="32.5" lengthAdjust="spacingAndGlyphs" >0.00</text><line x1="63.0" y1="696.1" x2="67.3" y2="696.1" stroke="#333" stroke-width="1.2"/><text x="57.5" y="701.0" font-size="13.6" font-weight="bold" stroke="#222" stroke-width="0.4" fill="#222" text-anchor="end" textLength="32.5" lengthAdjust="spacingAndGlyphs" >0.05</text><line x1="63.0" y1="635.1" x2="67.3" y2="635.1" stroke="#333" stroke-width="1.2"/><text x="57.5" y="640.0" font-size="13.6" font-weight="bold" stroke="#222" stroke-width="0.4" fill="#222" text-anchor="end" textLength="32.5" lengthAdjust="spacingAndGlyphs" >0.10</text><line x1="63.0" y1="574.2" x2="67.3" y2="574.2" stroke="#333" stroke-width="1.2"/><text x="57.5" y="579.1" font-size="13.6" font-weight="bold" stroke="#222" stroke-width="0.4" fill="#222" text-anchor="end" textLength="32.5" lengthAdjust="spacingAndGlyphs" >0.15</text><line x1="63.0" y1="513.3" x2="67.3" y2="513.3" stroke="#333" stroke-width="1.2"/><text x="57.5" y="518.2" font-size="13.6" font-weight="bold" stroke="#222" stroke-width="0.4" fill="#222" text-anchor="end" textLength="32.5" lengthAdjust="spacingAndGlyphs" >0.20</text><text x="111.4" y="771.7" font-size="13.6" font-weight="bold" stroke="#222" stroke-width="0.4" fill="#222" text-anchor="middle" textLength="52.5" lengthAdjust="spacingAndGlyphs" >1.0/2.0</text><text x="188.9" y="771.7" font-size="13.6" font-weight="bold" stroke="#222" stroke-width="0.4" fill="#222" text-anchor="middle" textLength="52.5" lengthAdjust="spacingAndGlyphs" >1.5/3.0</text><text x="266.5" y="771.7" font-size="13.6" font-weight="bold" stroke="#222" stroke-width="0.4" fill="#222" text-anchor="middle" textLength="52.5" lengthAdjust="spacingAndGlyphs" >2.0/4.0</text><text x="344.0" y="771.7" font-size="13.6" font-weight="bold" stroke="#222" stroke-width="0.4" fill="#222" text-anchor="middle" textLength="52.5" lengthAdjust="spacingAndGlyphs" >3.0/6.0</text><text x="421.6" y="771.7" font-size="13.6" font-weight="bold" stroke="#222" stroke-width="0.4" fill="#222" text-anchor="middle" textLength="52.5" lengthAdjust="spacingAndGlyphs" >4.0/8.0</text><text x="499.1" y="771.7" font-size="13.6" font-weight="bold" stroke="#222" stroke-width="0.4" fill="#222" text-anchor="middle" textLength="62" lengthAdjust="spacingAndGlyphs" >5.0/10.0</text><text x="576.7" y="771.7" font-size="13.6" font-weight="bold" stroke="#222" stroke-width="0.4" fill="#222" text-anchor="middle" textLength="62" lengthAdjust="spacingAndGlyphs" >6.0/12.0</text><text x="654.2" y="771.7" font-size="13.6" font-weight="bold" stroke="#222" stroke-width="0.4" fill="#222" text-anchor="middle" textLength="62" lengthAdjust="spacingAndGlyphs" >7.0/14.0</text><text x="382.5" y="792.7" font-size="18.3" font-weight="bold" stroke="#222" stroke-width="0.4" fill="#222" text-anchor="middle" textLength="252.5" lengthAdjust="spacingAndGlyphs" >Velocity (vs0/vs1) [mm/s]</text><g transform="translate(15.8,608.5) rotate(-90)"><text x="0" y="0" font-size="18.3" font-weight="bold" stroke="#222" stroke-width="0.4" fill="#222" text-anchor="middle" textLength="213" lengthAdjust="spacingAndGlyphs" >Max shear stress [Pa]</text></g><rect x="70.4" y="467.4" width="158.6" height="86.6" rx="3" fill="#fff" fill-opacity="0.85" stroke="#d6d6d6" stroke-width="1"/><text x="150" y="484.8" font-size="15.2" font-weight="bold" stroke="#333" stroke-width="0.4" fill="#333" text-anchor="middle" textLength="146" lengthAdjust="spacingAndGlyphs" >From left to right</text><rect x="92.9" y="495.3" width="27.6" height="9.5" fill="#cb3d2f"/><text x="132.5" y="504.6" font-size="13.3" font-weight="bold" stroke="#333" stroke-width="0.4" fill="#333" text-anchor="start" textLength="72.2" lengthAdjust="spacingAndGlyphs" >Embryo 1</text><rect x="92.9" y="515.3" width="27.6" height="9.5" fill="#4a73b1"/><text x="132.5" y="524.6" font-size="13.3" font-weight="bold" stroke="#333" stroke-width="0.4" fill="#333" text-anchor="start" textLength="72.2" lengthAdjust="spacingAndGlyphs" >Embryo 2</text><rect x="92.9" y="535.3" width="27.6" height="9.5" fill="#98bedb"/><text x="132.5" y="544.6" font-size="13.3" font-weight="bold" stroke="#333" stroke-width="0.4" fill="#333" text-anchor="start" textLength="72.2" lengthAdjust="spacingAndGlyphs" >Embryo 3</text><text x="346.75" y="457.75" font-size="29" font-weight="bold" stroke="#000" stroke-width="0.4" fill="#000" text-anchor="middle" >c</text>
<polygon points="769.5,741.4 769.5,511.2 805.7,645.6 855.9,689.2 916.1,697.6 916.1,741.4" fill="#cfe2cb"/><line x1="765.5" y1="499.4" x2="765.5" y2="753.3" stroke="#a8a8a8" stroke-opacity="0.55" stroke-width="0.85" stroke-dasharray="2.6,1.1"/><line x1="815.7" y1="499.4" x2="815.7" y2="753.3" stroke="#a8a8a8" stroke-opacity="0.55" stroke-width="0.85" stroke-dasharray="2.6,1.1"/><line x1="865.9" y1="499.4" x2="865.9" y2="753.3" stroke="#a8a8a8" stroke-opacity="0.55" stroke-width="0.85" stroke-dasharray="2.6,1.1"/><line x1="916.1" y1="499.4" x2="916.1" y2="753.3" stroke="#a8a8a8" stroke-opacity="0.55" stroke-width="0.85" stroke-dasharray="2.6,1.1"/><line x1="966.3" y1="499.4" x2="966.3" y2="753.3" stroke="#a8a8a8" stroke-opacity="0.55" stroke-width="0.85" stroke-dasharray="2.6,1.1"/><line x1="1016.5" y1="499.4" x2="1016.5" y2="753.3" stroke="#a8a8a8" stroke-opacity="0.55" stroke-width="0.85" stroke-dasharray="2.6,1.1"/><line x1="1066.7" y1="499.4" x2="1066.7" y2="753.3" stroke="#a8a8a8" stroke-opacity="0.55" stroke-width="0.85" stroke-dasharray="2.6,1.1"/><line x1="1116.9" y1="499.4" x2="1116.9" y2="753.3" stroke="#a8a8a8" stroke-opacity="0.55" stroke-width="0.85" stroke-dasharray="2.6,1.1"/><line x1="1167.1" y1="499.4" x2="1167.1" y2="753.3" stroke="#a8a8a8" stroke-opacity="0.55" stroke-width="0.85" stroke-dasharray="2.6,1.1"/><line x1="749.2" y1="741.4" x2="1197.8" y2="741.4" stroke="#a8a8a8" stroke-opacity="0.5" stroke-width="0.85" stroke-dasharray="2.6,1.1"/><line x1="749.2" y1="700.6" x2="1197.8" y2="700.6" stroke="#a8a8a8" stroke-opacity="0.5" stroke-width="0.85" stroke-dasharray="2.6,1.1"/><line x1="749.2" y1="659.9" x2="1197.8" y2="659.9" stroke="#a8a8a8" stroke-opacity="0.5" stroke-width="0.85" stroke-dasharray="2.6,1.1"/><line x1="749.2" y1="619.1" x2="1197.8" y2="619.1" stroke="#a8a8a8" stroke-opacity="0.5" stroke-width="0.85" stroke-dasharray="2.6,1.1"/><line x1="749.2" y1="578.4" x2="1197.8" y2="578.4" stroke="#a8a8a8" stroke-opacity="0.5" stroke-width="0.85" stroke-dasharray="2.6,1.1"/><line x1="749.2" y1="537.6" x2="1197.8" y2="537.6" stroke="#a8a8a8" stroke-opacity="0.5" stroke-width="0.85" stroke-dasharray="2.6,1.1"/><line x1="916.1" y1="499.4" x2="916.1" y2="753.3" stroke="#e8372d" stroke-width="2" stroke-dasharray="6,3.5"/><polyline points="769.5,511.2 805.7,645.6 855.9,689.2 976.3,706.0 1056.7,715.0 1096.8,720.6 1137.0,723.9 1177.1,726.3" fill="none" stroke="#1030f0" stroke-width="2"/><circle cx="769.5" cy="511.2" r="3.6" fill="#1030f0"/><circle cx="805.7" cy="645.6" r="3.6" fill="#1030f0"/><circle cx="855.9" cy="689.2" r="3.6" fill="#1030f0"/><circle cx="976.3" cy="706.0" r="3.6" fill="#1030f0"/><circle cx="1056.7" cy="715.0" r="3.6" fill="#1030f0"/><circle cx="1096.8" cy="720.6" r="3.6" fill="#1030f0"/><circle cx="1137.0" cy="723.9" r="3.6" fill="#1030f0"/><circle cx="1177.1" cy="726.3" r="3.6" fill="#1030f0"/><line x1="749.2" y1="499.4" x2="749.2" y2="754.0" stroke="#444" stroke-width="1.5"/><line x1="749.2" y1="753.3" x2="1197.8" y2="753.3" stroke="#444" stroke-width="1.5"/><line x1="749.2" y1="741.4" x2="753.0" y2="741.4" stroke="#333" stroke-width="1.1"/><text x="744.5" y="746.2" font-size="13.8" stroke="#333" stroke-width="0.2" fill="#333" text-anchor="end" >0</text><line x1="749.2" y1="700.6" x2="753.0" y2="700.6" stroke="#333" stroke-width="1.1"/><text x="744.5" y="705.4" font-size="13.8" stroke="#333" stroke-width="0.2" fill="#333" text-anchor="end" >1</text><line x1="749.2" y1="659.9" x2="753.0" y2="659.9" stroke="#333" stroke-width="1.1"/><text x="744.5" y="664.7" font-size="13.8" stroke="#333" stroke-width="0.2" fill="#333" text-anchor="end" >2</text><line x1="749.2" y1="619.1" x2="753.0" y2="619.1" stroke="#333" stroke-width="1.1"/><text x="744.5" y="623.9" font-size="13.8" stroke="#333" stroke-width="0.2" fill="#333" text-anchor="end" >3</text><line x1="749.2" y1="578.4" x2="753.0" y2="578.4" stroke="#333" stroke-width="1.1"/><text x="744.5" y="583.2" font-size="13.8" stroke="#333" stroke-width="0.2" fill="#333" text-anchor="end" >4</text><line x1="749.2" y1="537.6" x2="753.0" y2="537.6" stroke="#333" stroke-width="1.1"/><text x="744.5" y="542.4" font-size="13.8" stroke="#333" stroke-width="0.2" fill="#333" text-anchor="end" >5</text><line x1="765.5" y1="749.0999999999999" x2="765.5" y2="753.3" stroke="#333" stroke-width="1.1"/><text x="765.5" y="769.1" font-size="14.4" stroke="#333" stroke-width="0.2" fill="#333" text-anchor="middle" textLength="38" lengthAdjust="spacingAndGlyphs" >0.025</text><line x1="815.7" y1="749.0999999999999" x2="815.7" y2="753.3" stroke="#333" stroke-width="1.1"/><text x="815.7" y="769.1" font-size="14.4" stroke="#333" stroke-width="0.2" fill="#333" text-anchor="middle" textLength="38" lengthAdjust="spacingAndGlyphs" >0.050</text><line x1="865.9" y1="749.0999999999999" x2="865.9" y2="753.3" stroke="#333" stroke-width="1.1"/><text x="865.9" y="769.1" font-size="14.4" stroke="#333" stroke-width="0.2" fill="#333" text-anchor="middle" textLength="38" lengthAdjust="spacingAndGlyphs" >0.075</text><line x1="916.1" y1="749.0999999999999" x2="916.1" y2="753.3" stroke="#333" stroke-width="1.1"/><text x="916.1" y="769.1" font-size="14.4" stroke="#333" stroke-width="0.2" fill="#333" text-anchor="middle" textLength="38" lengthAdjust="spacingAndGlyphs" >0.100</text><line x1="966.3" y1="749.0999999999999" x2="966.3" y2="753.3" stroke="#333" stroke-width="1.1"/><text x="966.3" y="769.1" font-size="14.4" stroke="#333" stroke-width="0.2" fill="#333" text-anchor="middle" textLength="38" lengthAdjust="spacingAndGlyphs" >0.125</text><line x1="1016.5" y1="749.0999999999999" x2="1016.5" y2="753.3" stroke="#333" stroke-width="1.1"/><text x="1016.5" y="769.1" font-size="14.4" stroke="#333" stroke-width="0.2" fill="#333" text-anchor="middle" textLength="38" lengthAdjust="spacingAndGlyphs" >0.150</text><line x1="1066.7" y1="749.0999999999999" x2="1066.7" y2="753.3" stroke="#333" stroke-width="1.1"/><text x="1066.7" y="769.1" font-size="14.4" stroke="#333" stroke-width="0.2" fill="#333" text-anchor="middle" textLength="38" lengthAdjust="spacingAndGlyphs" >0.175</text><line x1="1116.9" y1="749.0999999999999" x2="1116.9" y2="753.3" stroke="#333" stroke-width="1.1"/><text x="1116.9" y="769.1" font-size="14.4" stroke="#333" stroke-width="0.2" fill="#333" text-anchor="middle" textLength="38" lengthAdjust="spacingAndGlyphs" >0.200</text><line x1="1167.1" y1="749.0999999999999" x2="1167.1" y2="753.3" stroke="#333" stroke-width="1.1"/><text x="1167.1" y="769.1" font-size="14.4" stroke="#333" stroke-width="0.2" fill="#333" text-anchor="middle" textLength="38" lengthAdjust="spacingAndGlyphs" >0.225</text><text x="973" y="786.9" font-size="14.5" font-weight="bold" stroke="#222" stroke-width="0.4" fill="#222" text-anchor="middle" textLength="235" lengthAdjust="spacingAndGlyphs" >Shear Stress on Embryo2 (Pa)</text><g transform="translate(727.5,626.3) rotate(-90)"><text x="0" y="0" font-size="13.5" font-weight="bold" stroke="#222" stroke-width="0.4" fill="#222" text-anchor="middle" textLength="99" lengthAdjust="spacingAndGlyphs" >Exit Time (s)</text></g><text x="973.2" y="492.7" font-size="19.4" stroke="#333" stroke-width="0.2" fill="#333" text-anchor="middle" textLength="355.5" lengthAdjust="spacingAndGlyphs" >Exit Time vs Shear Stress on Embryo2</text><rect x="1027.9" y="505.5" width="164" height="56.3" rx="3" fill="#fff" fill-opacity="0.85" stroke="#d6d6d6" stroke-width="1"/><line x1="1032" y1="515.4" x2="1056.7" y2="515.4" stroke="#1030f0" stroke-width="2"/><circle cx="1044.3" cy="515.4" r="3.6" fill="#1030f0"/><line x1="1032" y1="532.6" x2="1056.7" y2="532.6" stroke="#e8372d" stroke-width="2" stroke-dasharray="5.5,3"/><rect x="1032" y="546" width="24.7" height="8.8" fill="#cfe3cc" stroke="#b9d6b5" stroke-width="0.5"/><text x="1065.5" y="519.9" font-size="12.4" stroke="#333" stroke-width="0.2" fill="#333" text-anchor="start" textLength="53" lengthAdjust="spacingAndGlyphs" >Exit Time</text><text x="1065.5" y="537.3" font-size="12.4" stroke="#333" stroke-width="0.2" fill="#333" text-anchor="start" textLength="96" lengthAdjust="spacingAndGlyphs" >0.1 Pa Threshold</text><text x="1065.5" y="555.0" font-size="12.4" stroke="#333" stroke-width="0.2" fill="#333" text-anchor="start" textLength="121" lengthAdjust="spacingAndGlyphs" >Safe Zone (≤ 0.1 Pa)</text><text x="935.6" y="456" font-size="29" font-weight="bold" stroke="#000" stroke-width="0.4" fill="#000" text-anchor="middle" >d</text>
</svg>
</body></html>
